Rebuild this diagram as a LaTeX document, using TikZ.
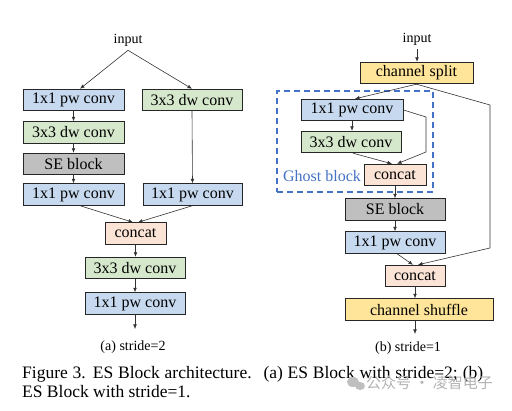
\documentclass[tikz,border=0pt]{standalone}
\usepackage{fontspec}
\setmainfont{Liberation Serif}
\newfontfamily\cjk{Noto Sans CJK SC}
\usetikzlibrary{arrows.meta}
\definecolor{cblue}{RGB}{198,217,238}
\definecolor{cgreen}{RGB}{214,232,204}
\definecolor{cgray}{RGB}{191,191,191}
\definecolor{cpeach}{RGB}{251,228,214}
\definecolor{cyellow}{RGB}{255,229,153}
\definecolor{gblue}{RGB}{68,114,196}
\begin{document}
\begin{tikzpicture}[x=1pt,y=-1pt,
  box/.style={draw=black!85, line width=0.9pt, minimum height=21.5pt, inner sep=0pt,
    font=\fontsize{16}{19}\selectfont},
  bluebox/.style={box, fill=cblue},
  greenbox/.style={box, fill=cgreen},
  graybox/.style={box, fill=cgray},
  peachbox/.style={box, fill=cpeach},
  yellowbox/.style={box, fill=cyellow},
  lbl/.style={inner sep=1pt, font=\fontsize{14}{16}\selectfont},
  conn/.style={draw=black!80, line width=0.6pt},
  arr/.style={conn, -{Latex[length=4.5pt,width=3.8pt]}},
  ghostbox/.style={draw=gblue, line width=1.3pt, dash pattern=on 6pt off 4pt, inner sep=0pt},
  capt/.style={anchor=base west, inner sep=0pt, font=\fontsize{17.5}{20}\selectfont}
]
\useasboundingbox (0,0) rectangle (512,411);

% ---------- (a) stride = 2 ----------
\node[lbl] (inA) at (128,40) {input};
\node[bluebox, minimum width=101pt] (L1) at (73.5,100) {1x1 pw conv};
\node[greenbox, minimum width=101pt] (L2) at (73.5,132.5) {3x3 dw conv};
\node[graybox, minimum width=101pt] (L3) at (73.5,164) {SE block};
\node[bluebox, minimum width=101pt] (L4) at (73.5,194.5) {1x1 pw conv};
\node[greenbox, minimum width=100pt] (R1) at (192,100) {3x3 dw conv};
\node[bluebox, minimum width=99pt] (R2) at (192.5,194.5) {1x1 pw conv};
\node[peachbox, minimum width=61pt] (CA) at (135.5,233.5) {concat};
\node[greenbox, minimum width=100pt] (DA) at (135,268) {3x3 dw conv};
\node[bluebox, minimum width=100pt] (PA) at (135,303.5) {1x1 pw conv};
\coordinate (outA) at (135,329);
\node[lbl] (subA) at (133,347) {(a) stride=2};

\draw[arr] ([yshift=-3pt]inA.south) -- ([xshift=6.5pt]L1.north);
\draw[arr] ([yshift=-3pt]inA.south) -- (R1.north);
\draw[arr] (L1.south) -- (L2.north);
\draw[arr] (L2.south) -- (L3.north);
\draw[arr] (L3.south) -- (L4.north);
\draw[arr] (R1.south) -- (R2.north);
\draw[arr] ([xshift=6.5pt]L4.south) -- ([xshift=-2.5pt]CA.north);
\draw[arr] (R2.south) -- ([xshift=2.5pt]CA.north);
\draw[arr] (CA.south) -- (CA.south |- DA.north);
\draw[arr] (DA.south) -- (PA.north);
\draw[arr] (PA.south) -- (outA);

% ---------- (b) stride = 1 ----------
\node[ghostbox, minimum width=156pt, minimum height=101pt] (G) at (355,141.5) {};
\node[lbl] (inB) at (417,39) {input};
\node[yellowbox, minimum width=113pt] (SP) at (416.5,73) {channel split};
\node[bluebox, minimum width=102pt] (P1) at (352,110) {1x1 pw conv};
\node[greenbox, minimum width=100pt] (D1) at (351,142) {3x3 dw conv};
\node[peachbox, minimum width=62pt] (C1) at (395,175) {concat};
\node[inner sep=0pt, text=gblue, font=\fontsize{16}{19}\selectfont] (GT) at (322,176) {Ghost block};
\node[graybox, minimum width=100pt] (SE) at (395,209.5) {SE block};
\node[bluebox, minimum width=100pt] (P2) at (395,242.5) {1x1 pw conv};
\node[peachbox, minimum width=60pt] (C2) at (415,276) {concat};
\node[yellowbox, minimum width=148pt] (SH) at (419,309.5) {channel shuffle};
\coordinate (outB) at (415,334);
\node[lbl] (subB) at (408,348) {(b) stride=1};
\coordinate (k1) at (490,105);
\coordinate (k2) at (490,248);
\coordinate (k3) at (426,117);
\coordinate (k4) at (426,152);

\draw[arr] ([yshift=-3pt]inB.south) -- (SP.north -| inB.south);
\draw[arr] (SP.south) -- ([xshift=3pt]P1.north);
\draw[arr] (SP.south) -- (k1) -- (k2) -- ([xshift=3pt]C2.north);
\draw[arr] (P1.south) -- (P1.south |- D1.north);
\draw[arr] (P1.east) -- (k3) -- (k4) -- ([xshift=2pt]C1.north);
\draw[arr] ([xshift=2pt]D1.south) -- ([xshift=-3pt]C1.north);
\draw[arr] (C1.south) -- (SE.north);
\draw[arr] (SE.south) -- (P2.north);
\draw[arr] ([xshift=2pt]P2.south) -- ([xshift=-2pt]C2.north);
\draw[arr] (C2.south) -- (C2.south |- SH.north);
\draw[arr] (C2.south |- SH.south) -- (outB);

% ---------- caption ----------
\node[capt] (cap1) at (22,379) {\makebox[461pt][s]{Figure 3. ES Block architecture. \ (a) ES Block with stride=2; (b)}};
\node[capt] (cap2) at (22,398) {ES Block with stride=1.};

% ---------- watermark ----------
\fill[black!25] (353,382) ellipse (6pt and 5pt);
\fill[black!25] (360,386) ellipse (5pt and 4pt);
\node[anchor=west, inner sep=0pt, text=black!30, font=\cjk\fontsize{15}{17}\selectfont] (wm) at (366,383) {公众号 · 凌智电子};
\end{tikzpicture}
\end{document}
